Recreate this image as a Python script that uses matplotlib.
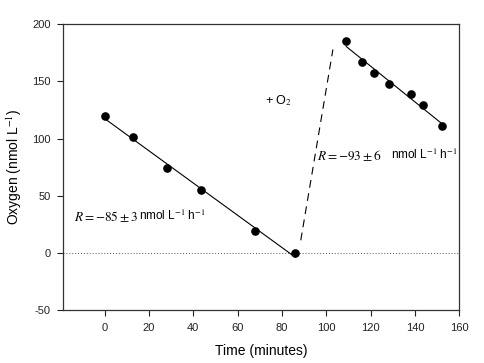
import numpy as np
import matplotlib
matplotlib.use("Agg")
import matplotlib.pyplot as plt

plt.rcParams['font.family'] = ['Liberation Sans', 'DejaVu Sans']
plt.rcParams['mathtext.fontset'] = 'stix'
plt.rcParams['axes.unicode_minus'] = False

# Data
time_before = [0, 13, 28, 43.5, 68, 86]
oxygen_before = [120, 101, 74, 55, 19, 0]
time_after = [109, 116, 121.5, 128.5, 138, 143.5, 152]
oxygen_after = [185, 167, 157, 148, 139, 129.5, 111]
o2_addition_x = [88.5, 103]
o2_addition_y = [11, 178]
xticks = [0, 20, 40, 60, 80, 100, 120, 140, 160]
yticks = [-50, 0, 50, 100, 150, 200]

fig = plt.figure(figsize=(4.85, 3.63), dpi=100)
ax = fig.add_axes([0.1305, 0.146, 0.8165, 0.787])

# regression lines
for xs, ys in [(time_before, oxygen_before), (time_after, oxygen_after)]:
    xs = np.array(xs); ys = np.array(ys)
    m, b = np.polyfit(xs, ys, 1)
    xx = np.array([xs.min(), xs.max()])
    ax.plot(xx, m * xx + b, color='black', lw=0.8, zorder=2)

ax.plot(time_before, oxygen_before, 'o', color='black', ms=5.2, zorder=3)
ax.plot(time_after, oxygen_after, 'o', color='black', ms=5.2, zorder=3)

ax.plot(o2_addition_x, o2_addition_y, color='black', lw=0.8, dashes=(7, 5))
ax.axhline(0, color='#555555', lw=0.7, ls=(0, (1, 2)))

ax.set_xlim(-18.6, 160)
ax.set_ylim(-50, 200)
ax.set_xticks(xticks)
ax.set_yticks(yticks)
ax.tick_params(axis='both', direction='out', length=4, width=0.8, labelsize=8,
               colors='#222222', pad=5)
for s in ax.spines.values():
    s.set_linewidth(0.9)
    s.set_color('#333333')

ax.set_xlabel('Time (minutes)', fontsize=10, labelpad=8)
ax.set_ylabel('Oxygen (nmol L$^{-1}$)', fontsize=10, labelpad=6)

ax.text(78.3, 133.5, '+ O$_2$', fontsize=9, ha='center', va='center')

t1 = ax.text(-13.8, 32, r'$R = -85 \pm 3$', fontsize=9.5, ha='left', va='center')
ax.annotate('nmol L$^{-1}$ h$^{-1}$', xy=(1, 0.5), xycoords=t1,
            xytext=(1, 0), textcoords='offset points',
            fontsize=8.5, ha='left', va='center')
t2 = ax.text(95.6, 85.5, r'$R = -93 \pm 6$', fontsize=9.5, ha='left', va='center')
ax.annotate('nmol L$^{-1}$ h$^{-1}$', xy=(1, 0.5), xycoords=t2,
            xytext=(7, 0), textcoords='offset points',
            fontsize=8.5, ha='left', va='center')

fig.savefig('out.png', dpi=100)
